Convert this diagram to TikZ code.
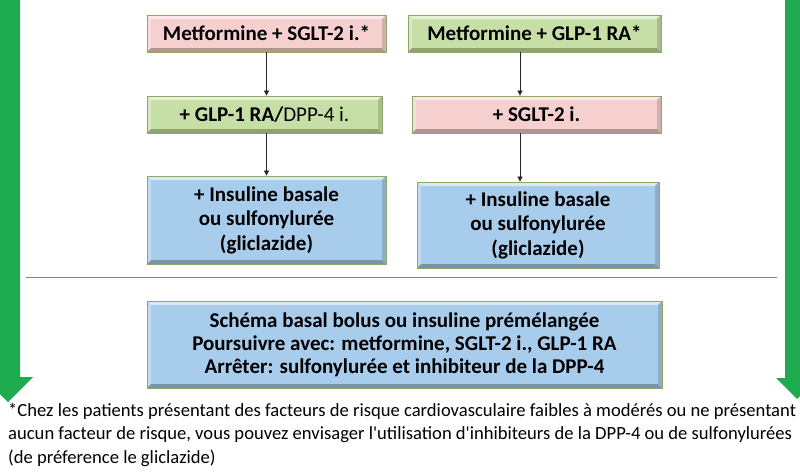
\documentclass[tikz,border=0pt]{standalone}
\usepackage{fontspec}
\setmainfont{Carlito}
\usetikzlibrary{arrows.meta}
\definecolor{pinkc}{HTML}{F6CFCF}
\definecolor{greenc}{HTML}{C6DFA6}
\definecolor{bluec}{HTML}{A8CCEC}
\definecolor{edgec}{HTML}{8FA868}
\definecolor{arrowg}{HTML}{1EAB50}
\definecolor{sepc}{HTML}{808080}
\tikzset{
  bev/.style={draw=edgec, line width=0.8pt, fill=#1, text=black, align=center,
    inner sep=0pt, font=\bfseries\fontsize{21}{24.5}\selectfont,
    path picture={
      \coordinate (pnw) at (path picture bounding box.north west);
      \coordinate (pne) at (path picture bounding box.north east);
      \coordinate (psw) at (path picture bounding box.south west);
      \coordinate (pse) at (path picture bounding box.south east);
      \fill[#1!45!white] (pnw) -- (pne) -- ([shift={(-4pt,-4pt)}]pne) -- ([shift={(4pt,-4pt)}]pnw) -- cycle;
      \fill[#1!70!white] (pnw) -- ([shift={(4pt,-4pt)}]pnw) -- ([shift={(4pt,4pt)}]psw) -- (psw) -- cycle;
      \fill[#1!72!black] (psw) -- (pse) -- ([shift={(-4pt,4pt)}]pse) -- ([shift={(4pt,4pt)}]psw) -- cycle;
      \fill[#1!85!black] (pne) -- (pse) -- ([shift={(-4pt,4pt)}]pse) -- ([shift={(-4pt,-4pt)}]pne) -- cycle;
    }},
  conn/.style={draw=black!85, line width=0.7pt, -{Triangle[length=5pt,width=5pt]}},
  bigarrow/.style={fill=arrowg, draw=none},
  note/.style={align=left, anchor=north west, inner sep=0pt, font=\fontsize{18.6}{23.5}\selectfont}
}
\begin{document}
\begin{tikzpicture}[x=1pt,y=-1pt]
\useasboundingbox (0,0) rectangle (800,472);
\fill[white] (0,0) rectangle (800,472);
\begin{scope}
\clip (0,0) rectangle (800,472);
% big green arrows
\fill[bigarrow] (-4,-5) -- (20,-5) -- (20,377) -- (33,377) -- (8,402) -- (-17,377) -- (-4,377) -- cycle;
\fill[bigarrow] (785,-5) -- (809,-5) -- (809,378) -- (818,378) -- (797,399) -- (776,378) -- (785,378) -- cycle;
\end{scope}
% separator
\draw[sepc, line width=0.8pt] (26,277) -- (777,277);
% left column
\node[bev=pinkc, minimum width=239pt, minimum height=37pt] (A) at (266.5,33.5) {Metformine + SGLT-2 i.*};
\node[bev=greenc, minimum width=235pt, minimum height=37pt] (B) at (264.5,114.5) {+ GLP-1 RA/{\mdseries DPP-4 i.}};
\node[bev=bluec, minimum width=239pt, minimum height=88pt] (C) at (266.5,220) {+ Insuline basale\\ou sulfonylurée\\(gliclazide)};
% right column
\node[bev=greenc, minimum width=253pt, minimum height=37pt] (D) at (534.5,33.5) {Metformine + GLP-1 RA*};
\node[bev=pinkc, minimum width=249pt, minimum height=37pt] (E) at (536.5,114.5) {+ SGLT-2 i.};
\node[bev=bluec, minimum width=242pt, minimum height=86pt] (F) at (538,225) {+ Insuline basale\\ou sulfonylurée\\(gliclazide)};
% bottom box
\node[bev=bluec, minimum width=515pt, minimum height=87pt, font=\bfseries\fontsize{21}{23.2}\selectfont] (G) at (404.5,344.5) {Schéma basal bolus ou insuline prémélangée\\Poursuivre avec: metformine, SGLT-2 i., GLP-1 RA\\Arrêter: sulfonylurée et inhibiteur de la DPP-4};
% connectors
\draw[conn] (266.5,0 |- A.south) -- (266.5,0 |- B.north);
\draw[conn] (266.5,0 |- B.south) -- (266.5,0 |- C.north);
\draw[conn] ([xshift=-14.5pt]D.south) -- ([xshift=-14.5pt]D.south |- E.north);
\draw[conn] ([xshift=-14.5pt]D.south |- E.south) -- ([xshift=-14.5pt]D.south |- F.north);
% footnote
\node[note] (N) at (8,403) {*Chez les patients présentant des facteurs de risque cardiovasculaire faibles à modérés ou ne présentant\\aucun facteur de risque, vous pouvez envisager l\textquotesingle utilisation d\textquotesingle inhibiteurs de la DPP-4 ou de sulfonylurées\\(de préference le gliclazide)};
\end{tikzpicture}
\end{document}
